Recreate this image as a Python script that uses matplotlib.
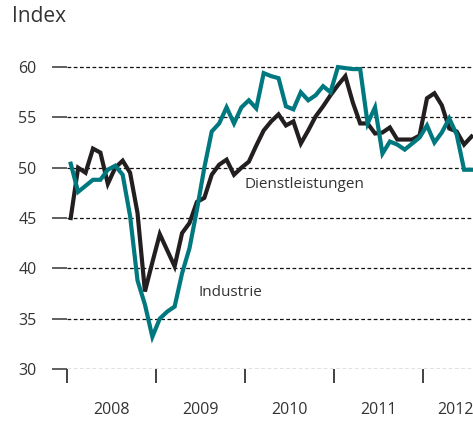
import matplotlib
matplotlib.use("Agg")
import matplotlib.pyplot as plt
from matplotlib.transforms import IdentityTransform
import numpy as np

plt.rcParams['font.family'] = ['Open Sans', 'DejaVu Sans']

years = ["2008", "2009", "2010", "2011", "2012"]

# monthly values Jan 2008 - Jul 2012
dienstleistungen = [45.0, 50.0, 49.5, 51.9, 51.5, 48.4, 50.0, 50.7, 49.5, 45.5,
                    37.7, 40.6, 43.4, 41.8, 40.2, 43.5, 44.5, 46.6, 47.0, 49.3,
                    50.3, 50.8, 49.3, 50.0, 50.6, 52.2, 53.7, 54.6, 55.3, 54.2,
                    54.6, 52.4, 53.7, 55.1, 56.1, 57.2, 58.2, 59.1, 56.5, 54.4,
                    54.4, 53.4, 53.5, 54.0, 52.8, 52.8, 52.8, 53.2, 56.9, 57.4,
                    56.2, 53.9, 53.6, 52.3, 53.1]
industrie = [50.4, 47.6, 48.2, 48.8, 48.8, 49.8, 50.2, 49.3, 45.2, 38.8,
             36.4, 33.2, 35.0, 35.7, 36.2, 39.5, 42.0, 45.8, 50.0, 53.6,
             54.4, 56.0, 54.4, 56.0, 56.7, 55.9, 59.4, 59.1, 58.9, 56.1,
             55.8, 57.5, 56.7, 57.2, 58.1, 57.5, 60.0, 59.9, 59.8, 59.8,
             54.4, 56.0, 51.4, 52.6, 52.3, 51.8, 52.4, 53.0, 54.2, 52.5,
             53.5, 54.9, 53.3, 49.8, 49.8]
yticks = [30, 35, 40, 45, 50, 55, 60]

black = "#231f20"
teal = "#00787f"
txt = "#333333"

W, H = 473, 421
fig = plt.figure(figsize=(W / 100, H / 100), dpi=100)
ax = fig.add_axes([67 / W, 52 / H, 406 / W, 314 / H])

x = np.arange(len(dienstleistungen))
ax.plot(x, dienstleistungen, color=black, lw=3.0, solid_joinstyle='miter', zorder=3)
ax.plot(x, industrie, color=teal, lw=3.0, solid_joinstyle='miter', zorder=4)

xmin, xmax = -0.5, 54.2
ax.set_xlim(xmin, xmax)
ax.set_ylim(30, 61.2)

for s in ax.spines.values():
    s.set_visible(False)

for v in yticks:
    ax.axhline(v, color="#111111", lw=0.9, ls=(0, (3, 2)), zorder=1)

ax.set_yticks(yticks)
ax.set_yticklabels([str(v) for v in yticks])
ax.tick_params(axis='y', length=11, width=1.2, color="#444444", pad=11,
               labelsize=11.5, labelcolor=txt)

bounds = [-0.5 + 12 * k for k in range(len(years))]
ax.set_xticks(bounds)
ax.set_xticklabels([])
ax.tick_params(axis='x', which='major', length=10, width=1.2, color="#222222", direction='out')
centers = [min(b + 6, 51.9) for b in bounds]
ax.set_xticks(centers, minor=True)
ax.set_xticklabels(years, minor=True)
ax.tick_params(axis='x', which='minor', length=0, pad=24, labelsize=11.5, labelcolor=txt)

ax.text(245, H - 184, "Dienstleistungen", fontsize=11, color=txt, va='center',
        transform=IdentityTransform())
ax.text(199, H - 292, "Industrie", fontsize=11, color=txt, va='center',
        transform=IdentityTransform())

fig.text(12 / W, 1 - 17 / H, "Index", fontsize=15, color=txt, va='center', ha='left')

fig.savefig("out.png", dpi=100)
